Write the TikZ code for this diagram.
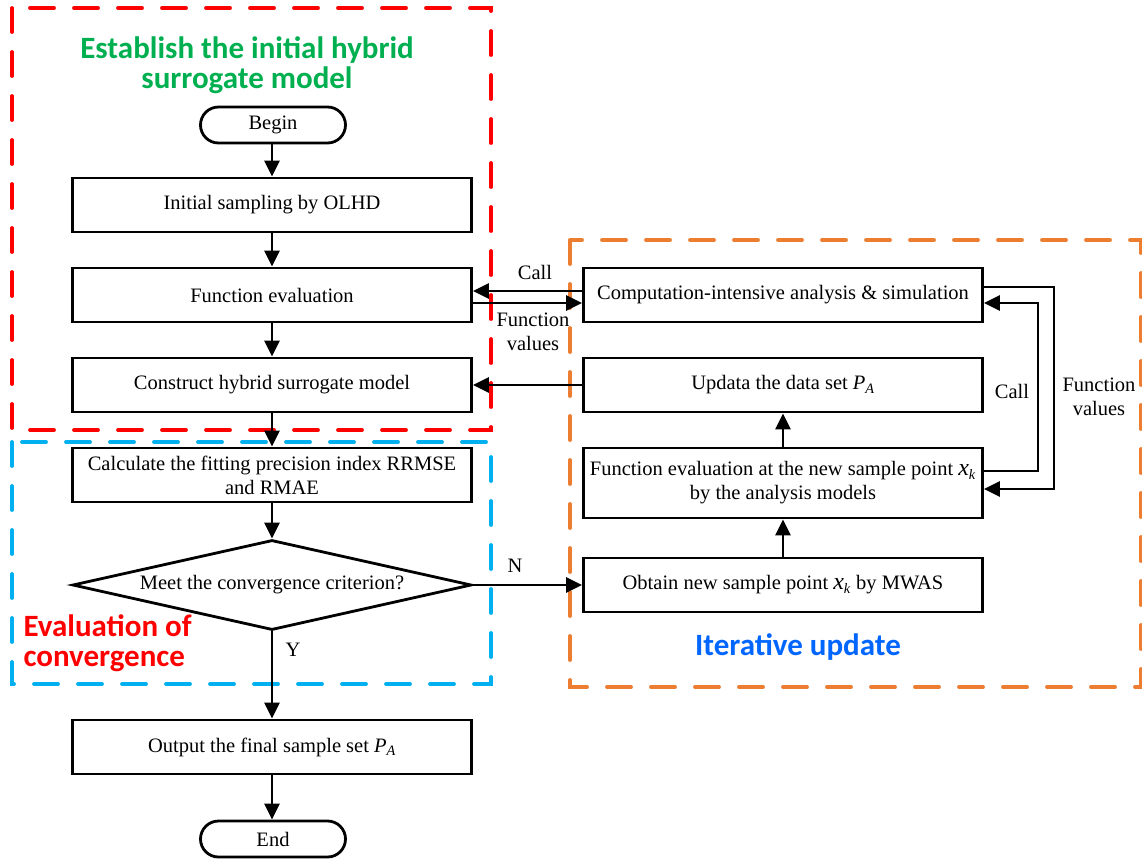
\documentclass[tikz,border=0pt]{standalone}
\usepackage{fontspec}
\setmainfont{Liberation Serif}
\newfontfamily\headfont{Carlito}
\usetikzlibrary{arrows.meta,shapes.geometric}
\definecolor{hgreen}{RGB}{0,176,80}
\definecolor{hred}{RGB}{255,0,0}
\definecolor{hblue}{RGB}{0,176,240}
\definecolor{horange}{RGB}{237,125,49}
\definecolor{hdblue}{RGB}{0,102,255}
\begin{document}
\begin{tikzpicture}[x=1pt,y=-1pt,
 box/.style={draw,line width=2.8pt,minimum width=399pt,minimum height=54pt,inner sep=2pt,align=center,font=\fontsize{20.5}{24}\selectfont},
 term/.style={draw,line width=2.8pt,rounded corners=18pt,minimum width=145pt,minimum height=36pt,font=\fontsize{20.5}{24}\selectfont},
 dec/.style={draw,line width=2.8pt,diamond,shape aspect=4.4,minimum width=399pt,minimum height=90pt,inner sep=0pt,font=\fontsize{20.5}{24}\selectfont},
 arr/.style={line width=2.8pt,-{Triangle[length=16pt,width=15pt]}},
 region/.style={line width=3.8pt,dash pattern=on 24pt off 20pt,line cap=round},
 lbl/.style={font=\fontsize{20.5}{24}\selectfont,align=center},
 head/.style={font=\headfont\bfseries\fontsize{31}{30}\selectfont,align=center}
]
\useasboundingbox (0,0) rectangle (1142,860);
% regions
\draw[region,hred] (12,8) rectangle (491,430);
\draw[region,hblue] (12,442) rectangle (491,684);
\draw[region,horange] (570,240) rectangle (1141,687);
% headings
\node[head,text=hgreen] (t1) at (247,65) {Establish the initial hybrid\\surrogate model};
\node[head,text=hred,align=left,anchor=west] (t2) at (20,643) {Evaluation of\\convergence};
\node[head,text=hdblue] (t3) at (798,647) {Iterative update};
% left column
\node[term] (begin) at (273,125) {Begin};
\node[box] (b1) at (272,205) {Initial sampling by OLHD};
\node[box] (b2) at (272,295) {Function evaluation};
\node[box] (b3) at (272,385) {Construct hybrid surrogate model};
\node[box] (b4) at (272,475) {Calculate the fitting precision index RRMSE\\and RMAE};
\node[dec] (d) at (272,585) {Meet the convergence criterion?};
\node[box] (b5) at (272,747) {Output the final sample set \textit{P}\textsubscript{\textit{A}}};
\node[term] (end) at (273,839) {End};
% right column
\node[box] (r1) at (783,295) {Computation-intensive analysis \& simulation};
\node[box] (r2) at (783,385) {Updata the data set \textit{P}\textsubscript{\textit{A}}};
\node[box,minimum height=70pt] (r3) at (783,483) {Function evaluation at the new sample point {\fontsize{24}{24}\selectfont\textit{x}}\textsubscript{\textit{k}}\\by the analysis models};
\node[box] (r4) at (783,585) {Obtain new sample point {\fontsize{24}{24}\selectfont\textit{x}}\textsubscript{\textit{k}} by MWAS};
% connectors left
\draw[arr] (begin.south -| b1.north) -- (b1.north);
\draw[arr] (b1) -- (b2);
\draw[arr] (b2) -- (b3);
\draw[arr] (b3) -- (b4);
\draw[arr] (b4) -- (d);
\draw[arr] (d) -- (b5);
\draw[arr] (b5.south) -- (b5.south |- end.north);
\node[lbl] (ly) at (293,650) {Y};
% across
\draw[arr] (d.east) -- (r4.west);
\node[lbl] (ln) at (515,566) {N};
\draw[arr] ([yshift=4pt]r1.west) -- ([yshift=4pt]b2.east);
\draw[arr] ([yshift=-8pt]b2.east) -- ([yshift=-8pt]r1.west);
\node[lbl] (lc1) at (535,272) {Call};
\node[lbl] (lf1) at (533,332) {Function\\values};
\draw[arr] (r2.west) -- (b3.east);
% right column
\draw[arr] (r4) -- (r3);
\draw[arr] (r3) -- (r2);
\draw[arr] ([yshift=12pt]r3.east) -- ++(54,0) |- ([yshift=-8pt]r1.east);
\draw[arr] ([yshift=8pt]r1.east) -- ++(70,0) |- ([yshift=-6pt]r3.east);
\node[lbl] (lc2) at (1012,391) {Call};
\node[lbl] (lf2) at (1099,397) {Function\\values};
\end{tikzpicture}
\end{document}
